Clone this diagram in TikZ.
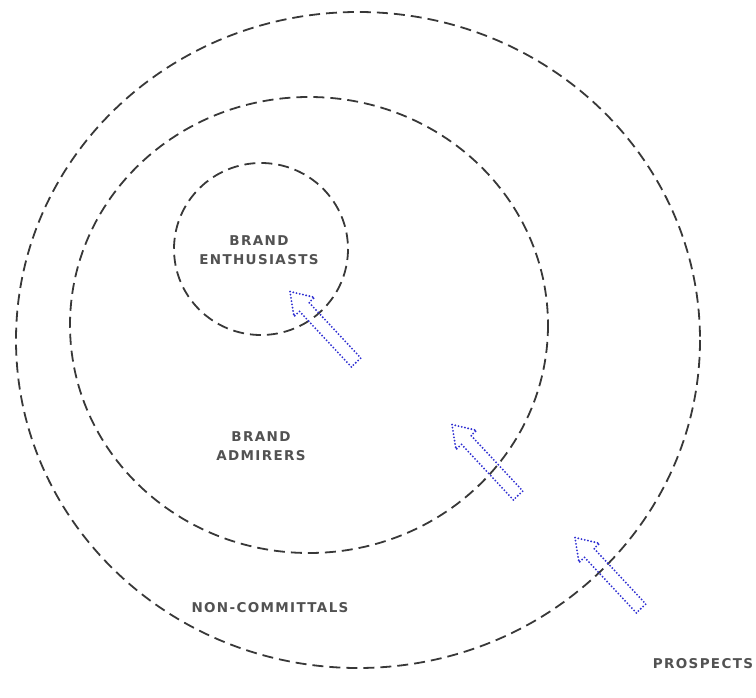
\documentclass[tikz,border=0pt]{standalone}
\usepackage{fontspec}
\newfontfamily\labelfont[LetterSpace=10]{DejaVu Sans}
\definecolor{moveblue}{RGB}{48,48,210}

\begin{document}
\begin{tikzpicture}[
    x=1pt, y=-1pt,
    ring/.style={
        draw=black!78,
        line width=1.8pt,
        dash pattern=on 11pt off 6pt
    },
    label/.style={
        font=\labelfont\bfseries\fontsize{13.5}{19}\selectfont,
        text=black!68,
        align=center,
        inner sep=0pt
    },
    move/.style={
        draw=moveblue,
        line width=2.1pt,
        dash pattern=on 0pt off 3.3pt,
        line cap=round,
        line join=round
    },
    pics/moveup/.style={
        code={
            \draw[move] (-48.5,-6.5) -- (27.5,-6.5) -- (27.5,-14) -- (48.5,0)
                -- (27.5,14) -- (27.5,6.5) -- (-48.5,6.5) -- cycle;
        }
    }
]

\useasboundingbox (0,0) rectangle (756,698);

% rings
\draw[ring] (358,340) ellipse [x radius=342, y radius=328];
\draw[ring] (309,325) ellipse [x radius=239, y radius=228];
\draw[ring] (261,249) ellipse [x radius=87, y radius=86];

% labels
\node[label] (enth) at (259,250) {BRAND\\ENTHUSIASTS};
\node[label] (adm) at (261,446) {BRAND\\ADMIRERS};
\node[label] (non) at (270,608) {NON-COMMITTALS};
\node[label] (pros) at (703,664) {PROSPECTS};

% arrows
\pic[rotate=133] (up1) at (323,327) {moveup};
\pic[rotate=133] (up2) at (485,460) {moveup};
\pic[rotate=133] (up3) at (608,573) {moveup};

\end{tikzpicture}
\end{document}
